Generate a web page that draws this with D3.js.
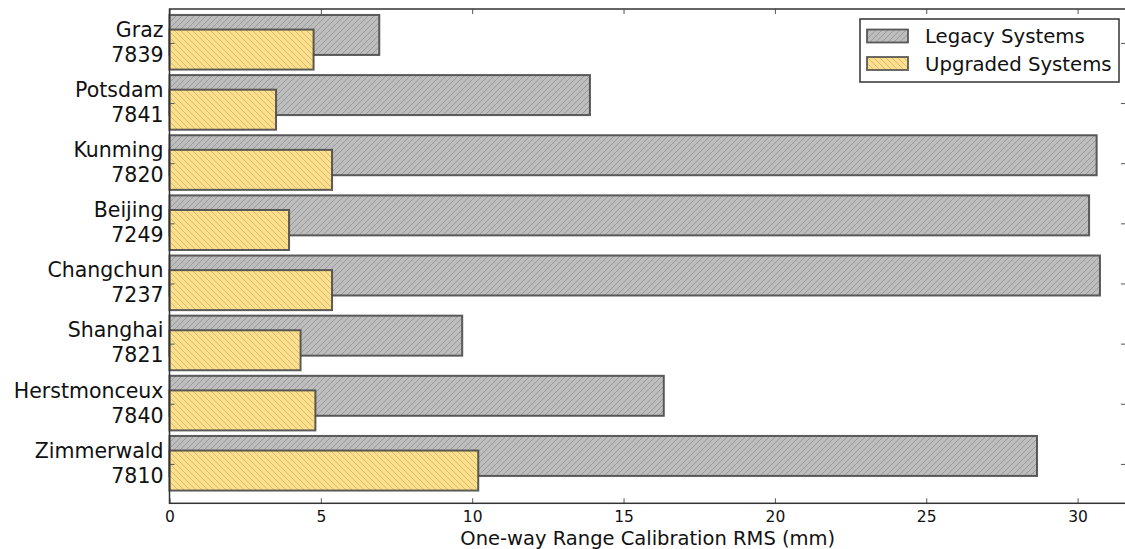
<!DOCTYPE html>
<html>
<head>
<meta charset="utf-8">
<script src="https://cdn.jsdelivr.net/npm/d3@7"></script>
<style>
  html, body { margin: 0; padding: 0; background: #fff; }
  svg { display: block; font-family: "DejaVu Sans", sans-serif; }
</style>
</head>
<body>
<svg id="chart" width="1125" height="549"></svg>
<script>
const stations = ["Graz", "Potsdam", "Kunming", "Beijing", "Changchun", "Shanghai", "Herstmonceux", "Zimmerwald"];
const stationIds = ["7839", "7841", "7820", "7249", "7237", "7821", "7840", "7810"];
const legacy = [6.93, 13.89, 30.63, 30.38, 30.74, 9.67, 16.33, 28.66];
const upgraded = [4.76, 3.52, 5.37, 3.95, 5.37, 4.33, 4.82, 10.20];
const xTicks = [0, 5, 10, 15, 20, 25, 30];
const seriesNames = ["Legacy Systems", "Upgraded Systems"];
const xLabel = "One-way Range Calibration RMS (mm)";

(function () {
const svg = d3.select("#chart");
const pL = 169.5, pR = 1126, pT = 9, pB = 503.3;

const x = d3.scaleLinear().domain([0, 31.6]).range([pL, pR]);
const y = d3.scaleLinear().domain([-0.564, 7.655]).range([pT, pB]);

const edge = "#4a4a4a";
const fills = { legacy: "#bdbdbd", upgraded: "#fddf8d" };

const defs = svg.append("defs");
const pFwd = defs.append("pattern").attr("id", "hatchFwd").attr("patternUnits", "userSpaceOnUse")
  .attr("width", 6).attr("height", 6);
pFwd.append("rect").attr("width", 6).attr("height", 6).attr("fill", fills.legacy);
pFwd.append("path").attr("d", "M-1,1 l2,-2 M0,6 l6,-6 M5,7 l2,-2")
  .attr("stroke", "#808080").attr("stroke-width", 0.8).attr("stroke-opacity", 0.7);

const pBack = defs.append("pattern").attr("id", "hatchBack").attr("patternUnits", "userSpaceOnUse")
  .attr("width", 6).attr("height", 6);
pBack.append("rect").attr("width", 6).attr("height", 6).attr("fill", fills.upgraded);
pBack.append("path").attr("d", "M-1,5 l2,2 M0,0 l6,6 M5,-1 l2,2")
  .attr("stroke", "#b59a55").attr("stroke-width", 0.8).attr("stroke-opacity", 0.65);

const idx = stations.map((d, i) => i);

// Legacy bars
svg.append("g").selectAll("rect").data(idx).join("rect")
  .attr("x", x(0))
  .attr("y", i => y(i - 0.465))
  .attr("width", i => x(legacy[i]) - x(0))
  .attr("height", i => y(i + 0.2) - y(i - 0.465))
  .attr("fill", "url(#hatchFwd)")
  .attr("stroke", edge).attr("stroke-width", 2).attr("stroke-opacity", 0.9);

// Upgraded bars
svg.append("g").selectAll("rect").data(idx).join("rect")
  .attr("x", x(0))
  .attr("y", i => y(i - 0.222))
  .attr("width", i => x(upgraded[i]) - x(0))
  .attr("height", i => y(i + 0.443) - y(i - 0.222))
  .attr("fill", "url(#hatchBack)")
  .attr("stroke", edge).attr("stroke-width", 2).attr("stroke-opacity", 0.9);

// Axes
const axisColor = "#333";
const gx = svg.append("g").attr("transform", `translate(0,${pB})`)
  .call(d3.axisBottom(x).tickValues(xTicks).tickFormat(d3.format("d"))
    .tickSizeInner(-5).tickSizeOuter(0).tickPadding(8));
gx.attr("font-family", null).attr("font-size", null);
gx.selectAll("text").attr("font-size", 15.5).attr("fill", "#111");

const gxt = svg.append("g").attr("transform", `translate(0,${pT})`)
  .call(d3.axisTop(x).tickValues(xTicks).tickFormat("")
    .tickSizeInner(-5).tickSizeOuter(0));

const gy = svg.append("g").attr("transform", `translate(${pL},0)`)
  .call(d3.axisLeft(y).tickValues(idx).tickFormat("")
    .tickSizeInner(-5).tickSizeOuter(0));

const gyr = svg.append("g").attr("transform", `translate(${pR},0)`)
  .call(d3.axisRight(y).tickValues(idx).tickFormat("")
    .tickSizeInner(-5).tickSizeOuter(0));

[gx, gxt, gy, gyr].forEach(g => {
  g.select(".domain").remove();
  g.selectAll("line").attr("stroke", "#555").attr("stroke-width", 1);
});

// Y tick labels (two lines)
const yl = svg.append("g").selectAll("text").data(idx).join("text")
  .attr("text-anchor", "end")
  .attr("font-size", 20.5)
  .attr("fill", "#111");
yl.append("tspan").attr("x", pL - 6).attr("y", i => y(i) - 6.2).text(i => stations[i]);
yl.append("tspan").attr("x", pL - 6).attr("y", i => y(i) + 18.8).text(i => stationIds[i]);

// Frame
svg.append("rect")
  .attr("x", pL).attr("y", pT)
  .attr("width", pR - pL).attr("height", pB - pT)
  .attr("fill", "none").attr("stroke", axisColor).attr("stroke-width", 1.5);

// X label
svg.append("text")
  .attr("x", (pL + pR) / 2).attr("y", 544.5)
  .attr("text-anchor", "middle").attr("font-size", 19.5).attr("fill", "#111")
  .text(xLabel);

// Legend
const lg = svg.append("g");
lg.append("rect").attr("x", 860).attr("y", 19).attr("width", 259).attr("height", 63)
  .attr("fill", "#fff").attr("stroke", "#333").attr("stroke-width", 1.5);
const legFills = ["url(#hatchFwd)", "url(#hatchBack)"];
seriesNames.forEach((name, k) => {
  const cy = 36 + k * 27.5;
  lg.append("rect").attr("x", 867).attr("y", cy - 6.5).attr("width", 41).attr("height", 13)
    .attr("fill", legFills[k]).attr("stroke", edge).attr("stroke-width", 1.8).attr("stroke-opacity", 0.9);
  lg.append("text").attr("x", 925).attr("y", cy + 7)
    .attr("font-size", 19.7).attr("fill", "#111").text(name);
});
})();
</script>
</body>
</html>
